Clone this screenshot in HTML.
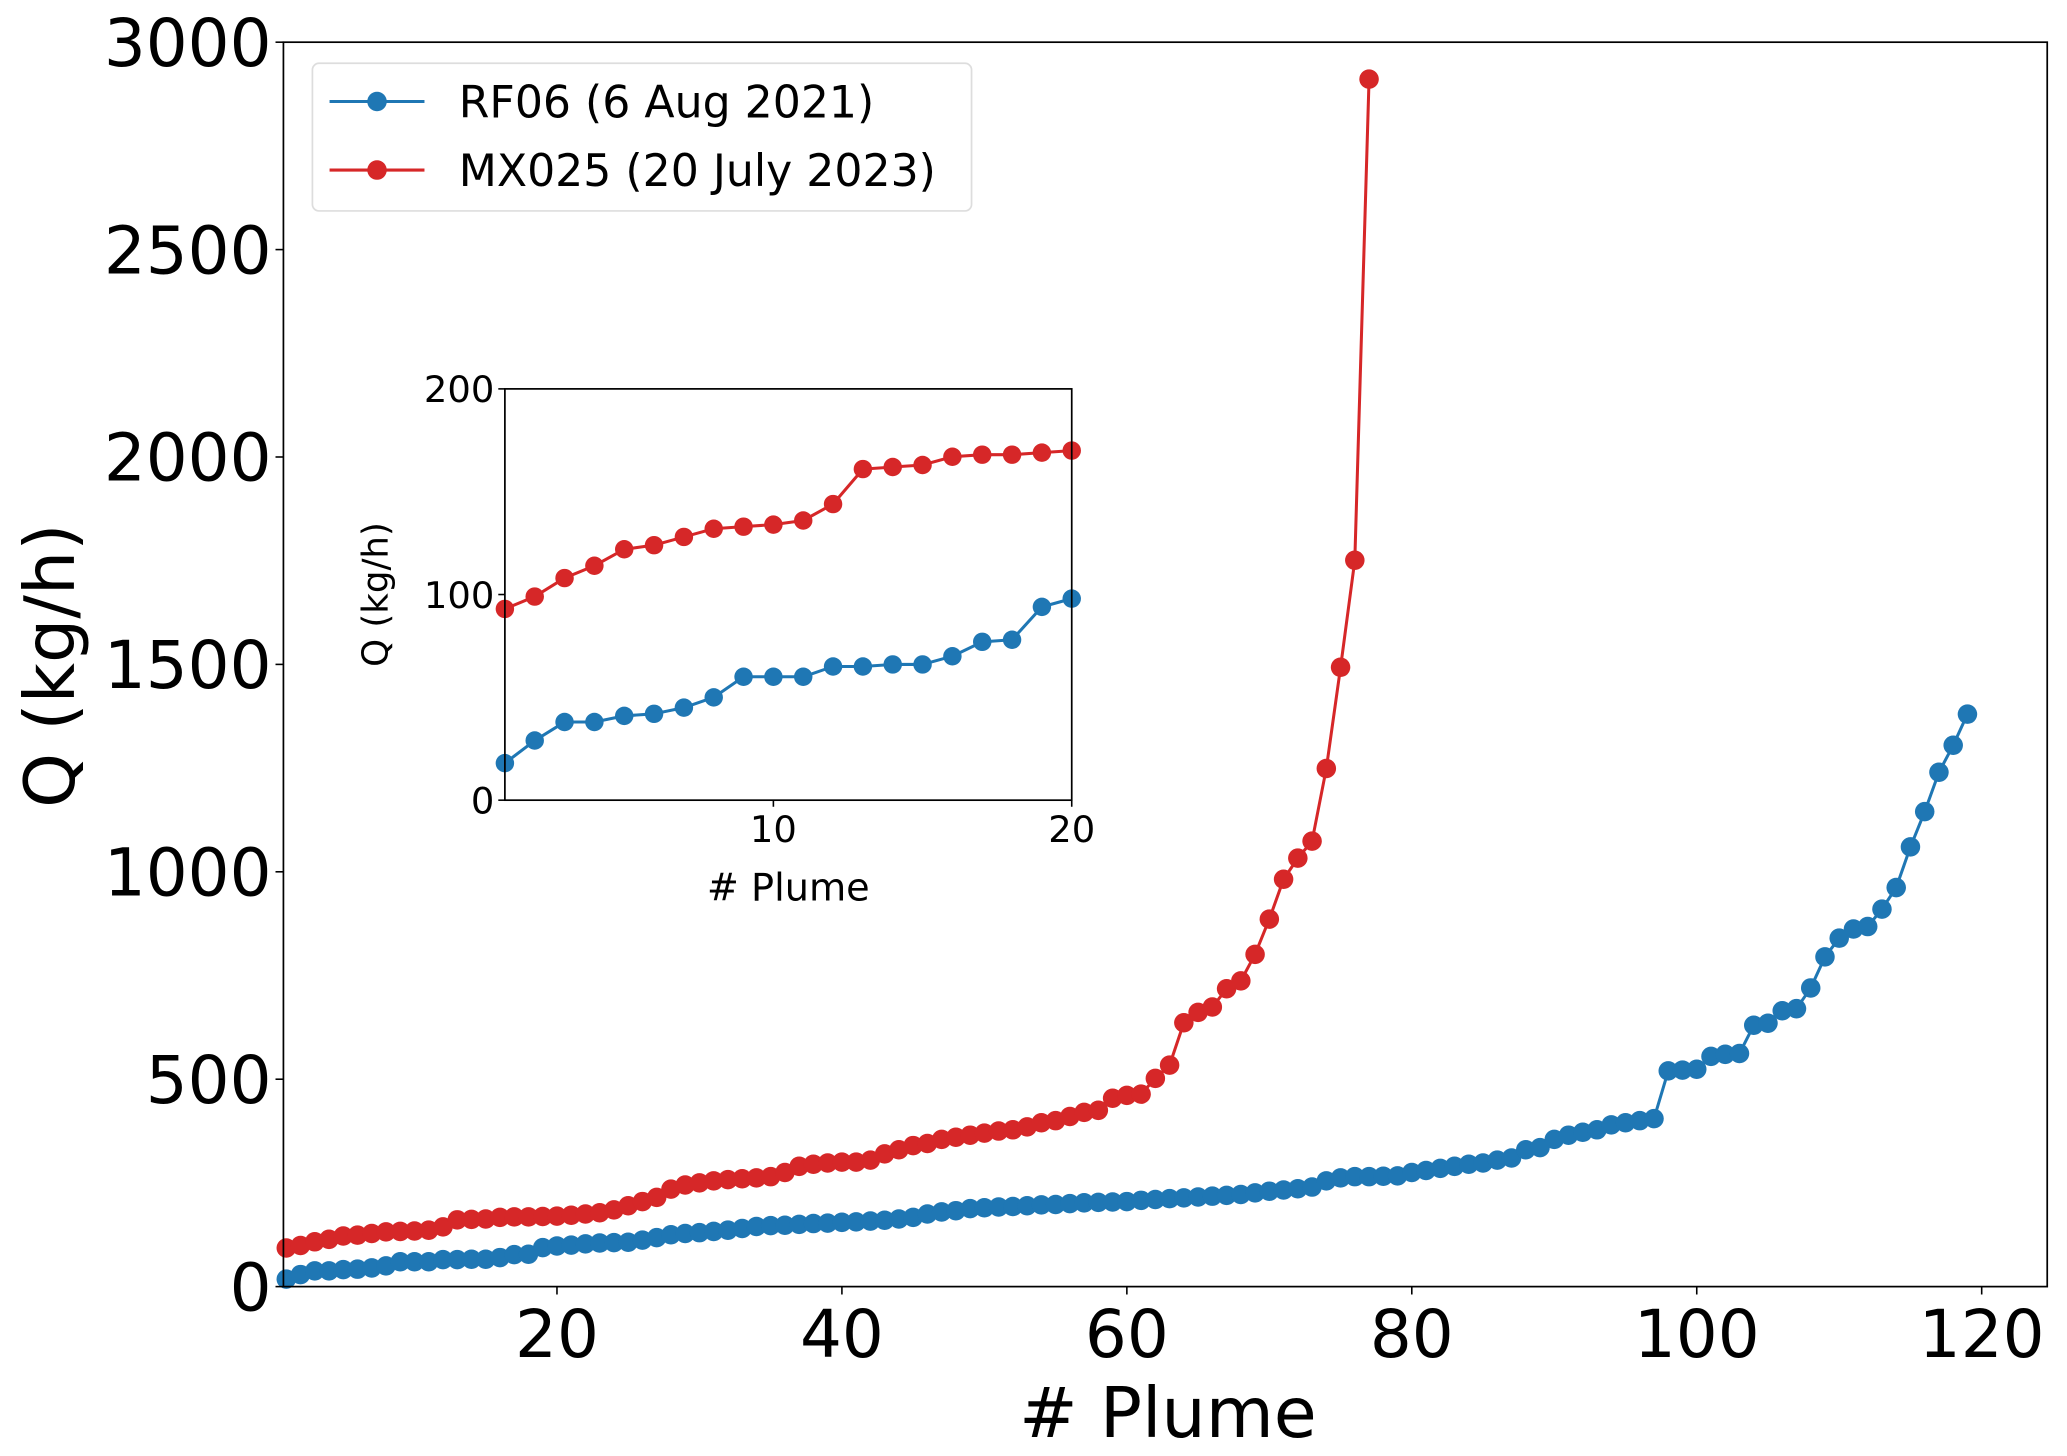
<!DOCTYPE html>
<html><head><meta charset="utf-8"><style>
html,body{margin:0;padding:0;background:#fff;}
svg{display:block;font-family:"DejaVu Sans","Liberation Sans",sans-serif;}
</style></head><body>
<svg id="chart" width="2067" height="1456" viewBox="0 0 1568 1104.5" xmlns="http://www.w3.org/2000/svg">
<rect width="1568" height="1104.5" fill="#fff"/>
<g id="main"></g>
<g id="inset"></g>
</svg>
<script>
const rf06Values = [18,29,38,38,41,42,45,50,60,60,60,65,65,66,66,70,77,78,94,98,
100,103,105,106,107,112,118,125,128,130,133,136,140,145,147,148,150,152,153,155,
156,158,160,163,167,175,180,183,188,190,192,193,195,197,198,200,202,203,204,205,
208,210,212,214,216,218,220,222,226,230,233,236,240,255,262,265,265,266,267,275,
280,285,290,295,298,305,310,330,335,355,365,372,378,390,395,400,405,520,522,524,
555,560,562,630,635,665,670,720,795,840,862,868,910,962,1060,1145,1240,1305,1380];
const mx025Values = [93,99,108,114,122,124,128,132,133,134,136,144,161,162,163,167,168,168,169,170,
172,175,178,185,195,205,215,235,245,250,255,258,260,262,265,275,290,295,298,300,
300,305,320,330,340,345,355,360,365,370,375,378,385,395,400,410,420,425,454,461,
464,502,534,636,661,674,718,737,801,886,982,1033,1074,1249,1493,1751,2911];
const mainXTicks = [20,40,60,80,100,120];
const mainYTicks = [0,500,1000,1500,2000,2500,3000];
const insetXTicks = [10,20];
const insetYTicks = [0,100,200];
const seriesNames = ["RF06 (6 Aug 2021)","MX025 (20 July 2023)"];
const seriesColors = ["#1f77b4","#d62728"];

const NS="http://www.w3.org/2000/svg";
function mk(parent,tag,attrs,text){const e=document.createElementNS(NS,tag);for(const k in attrs)e.setAttribute(k,attrs[k]);if(text!==undefined)e.textContent=text;parent.appendChild(e);return e;}

function drawAxes(g,box,xd,yd,xt,yt,fs,tickLen,seriesList,r,lw,prefix){
  const sx=v=>box.l+(v-xd[0])/(xd[1]-xd[0])*(box.r-box.l);
  const sy=v=>box.b-(v-yd[0])/(yd[1]-yd[0])*(box.b-box.t);
  mk(g,'rect',{x:box.l,y:box.t,width:box.r-box.l,height:box.b-box.t,fill:'#fff'});
  seriesList.forEach((s,si)=>{
    const sg=mk(g,'g',{});
    
    
    const pts=s.vals.map((v,i)=>sx(i+1).toFixed(2)+','+sy(v).toFixed(2)).join(' ');
    const pl=mk(sg,'polyline',{points:pts,fill:'none',stroke:s.color,'stroke-width':lw,'stroke-linejoin':'round'});
    
    
    s.vals.forEach((v,i)=>{
      const x=sx(i+1);
      if(x<box.l-r||x>box.r+r)return;
      const c=mk(sg,'circle',{cx:x,cy:sy(v),r:r,fill:s.color});
      
      
    });
  });
  const fr=mk(g,'rect',{x:box.l,y:box.t,width:box.r-box.l,height:box.b-box.t,fill:'none',stroke:'#000','stroke-width':1.3});
  
  
  xt.forEach(v=>{const x=sx(v);
    mk(g,'line',{x1:x,y1:box.b,x2:x,y2:box.b+tickLen,stroke:'#000','stroke-width':1.2});
    const t=mk(g,'text',{x:x,y:box.b+tickLen+fs*0.95,'font-size':fs,'text-anchor':'middle'},String(v));
    
    
  });
  yt.forEach(v=>{const y=sy(v);
    mk(g,'line',{x1:box.l-tickLen,y1:y,x2:box.l,y2:y,stroke:'#000','stroke-width':1.2});
    const t=mk(g,'text',{x:box.l-tickLen-3,y:y+fs*0.36,'font-size':fs,'text-anchor':'end'},String(v));
    
    
  });
}
const series=[{vals:rf06Values,color:seriesColors[0]},{vals:mx025Values,color:seriesColors[1]}];
const main=document.getElementById('main');
drawAxes(main,{l:215,r:1553,t:32,b:976},[0.8,124.6],[0,3000],mainXTicks,mainYTicks,50,6,series,7.4,2.3,'main-');
let t=mk(main,'text',{x:886,y:1090,'font-size':53,'text-anchor':'middle'},'# Plume');


t=mk(main,'text',{x:56,y:505,'font-size':53,'text-anchor':'middle',transform:'rotate(-90 56 505)'},'Q (kg/h)');


// legend
const lg=mk(main,'g',{});


mk(lg,'rect',{x:237,y:48,width:500,height:112,rx:5,fill:'#fff',stroke:'#ddd','stroke-width':1.3});
seriesNames.forEach((n,i)=>{const y=77+i*52;
  const e=mk(lg,'g',{});
  
  
  mk(e,'line',{x1:250,y1:y,x2:322,y2:y,stroke:seriesColors[i],'stroke-width':2.3});
  mk(e,'circle',{cx:286,cy:y,r:7.4,fill:seriesColors[i]});
  mk(e,'text',{x:348,y:y+12,'font-size':33.5},n);
});
// inset
const inset=document.getElementById('inset');


const insetSeries=[{vals:rf06Values.slice(0,20),color:seriesColors[0]},{vals:mx025Values.slice(0,20),color:seriesColors[1]}];
drawAxes(inset,{l:383,r:813,t:295,b:607},[1,20],[0,200],insetXTicks,insetYTicks,28,5,insetSeries,7,2.3,'inset-');
t=mk(inset,'text',{x:598,y:683,'font-size':29,'text-anchor':'middle'},'# Plume');


t=mk(inset,'text',{x:294,y:451,'font-size':27,'text-anchor':'middle',transform:'rotate(-90 294 451)'},'Q (kg/h)');


</script>
</body></html>
